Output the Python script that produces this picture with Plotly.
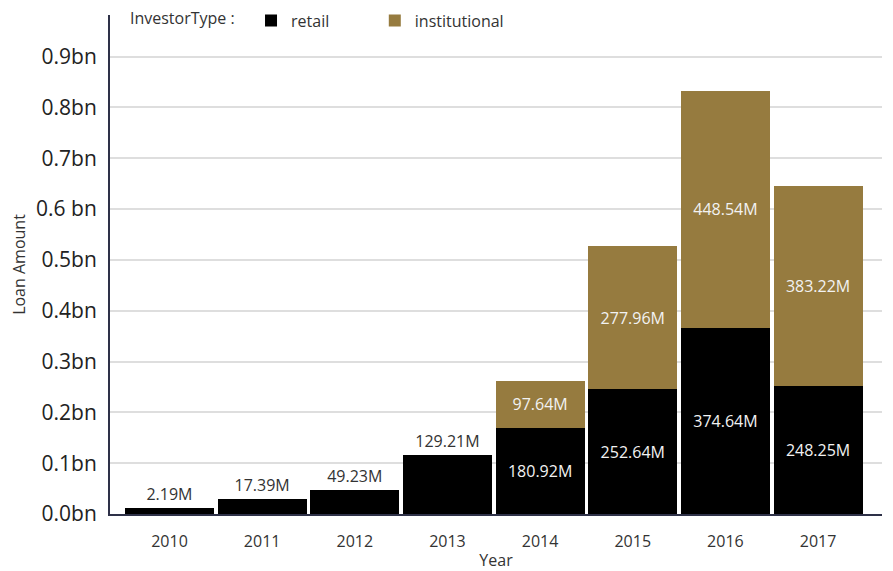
import plotly.graph_objects as go

years = ["2010", "2011", "2012", "2013", "2014", "2015", "2016", "2017"]
# bar heights (in bn)
retail_values = [0.0118, 0.030, 0.047, 0.1167, 0.1687, 0.2455, 0.3667, 0.252]
institutional_values = [None, None, None, None, 0.0937, 0.2821, 0.466, 0.3937]
# value labels as printed
retail_labels = ["2.19M", "17.39M", "49.23M", "129.21M", "180.92M", "252.64M", "374.64M", "248.25M"]
institutional_labels = ["", "", "", "", "97.64M", "277.96M", "448.54M", "383.22M"]
retail_label_pos = ["outside", "outside", "outside", "outside", "inside", "inside", "inside", "inside"]

tick_vals = [0, 0.1, 0.2, 0.3, 0.4, 0.5, 0.6, 0.7, 0.8, 0.9]
tick_text = ["0.0bn", "0.1bn", "0.2bn", "0.3bn", "0.4bn", "0.5bn", "0.6 bn", "0.7bn", "0.8bn", "0.9bn"]

FONT = "Open Sans"
GOLD = "#967b3f"
TXT = "#333333"

fig = go.Figure()
fig.add_trace(go.Bar(
    x=years, y=retail_values, name="retail", legend="legend", showlegend=True,
    marker=dict(color="#000000", line=dict(width=0)),
    text=retail_labels, textposition=retail_label_pos,
    insidetextanchor="middle",
    insidetextfont=dict(family=FONT, size=16, color="#f2f2f2"),
    outsidetextfont=dict(family=FONT, size=16, color=TXT),
    cliponaxis=False, hoverinfo="skip",
))
fig.add_trace(go.Bar(
    x=years, y=institutional_values, name="institutional", legend="legend2", showlegend=True,
    marker=dict(color=GOLD, line=dict(width=0)),
    text=institutional_labels, textposition="inside",
    insidetextanchor="middle",
    insidetextfont=dict(family=FONT, size=16, color="#f2f2f2"),
    hoverinfo="skip",
))

# the page body adds an 8px offset, so the figure is 8px smaller and margins compensate
fig.update_layout(
    width=885, height=563,
    showlegend=True,
    barmode="stack", bargap=0.04,
    plot_bgcolor="white", paper_bgcolor="white",
    margin=dict(l=102, r=11, t=7, b=57, autoexpand=False),
    font=dict(family=FONT, color=TXT),
    legend=dict(
        visible=True,
        orientation="h", x=0.0233, xanchor="left", y=0.989, yanchor="middle",
        bgcolor="rgba(0,0,0,0)",
        title=dict(text="InvestorType :  ", font=dict(family=FONT, size=16, color=TXT)),
        font=dict(family=FONT, size=16, color=TXT),
    ),
    legend2=dict(
        visible=True,
        orientation="h", x=0.343, xanchor="left", y=0.989, yanchor="middle",
        bgcolor="rgba(0,0,0,0)",
        font=dict(family=FONT, size=16, color=TXT),
    ),
    xaxis=dict(
        type="category", range=[-0.642, 7.69], automargin=False,
        showgrid=False, showline=True, linecolor="#2e3148", linewidth=2,
        ticks="", ticklabelstandoff=12,
        tickfont=dict(family=FONT, size=16, color=TXT),
        title=dict(text="Year", font=dict(family=FONT, size=16, color=TXT), standoff=14),
    ),
    yaxis=dict(
        range=[0, 0.982], tickvals=tick_vals, ticktext=tick_text, automargin=False,
        showgrid=True, gridcolor="#dedede", gridwidth=2,
        showline=True, linecolor="#2e3148", linewidth=2,
        zeroline=False, ticks="", ticklabelstandoff=7,
        tickfont=dict(family=FONT, size=21, color="#222222"),
        title=dict(text="Loan Amount", font=dict(family=FONT, size=16, color=TXT), standoff=6),
    ),
)

fig.write_html("out.html")
